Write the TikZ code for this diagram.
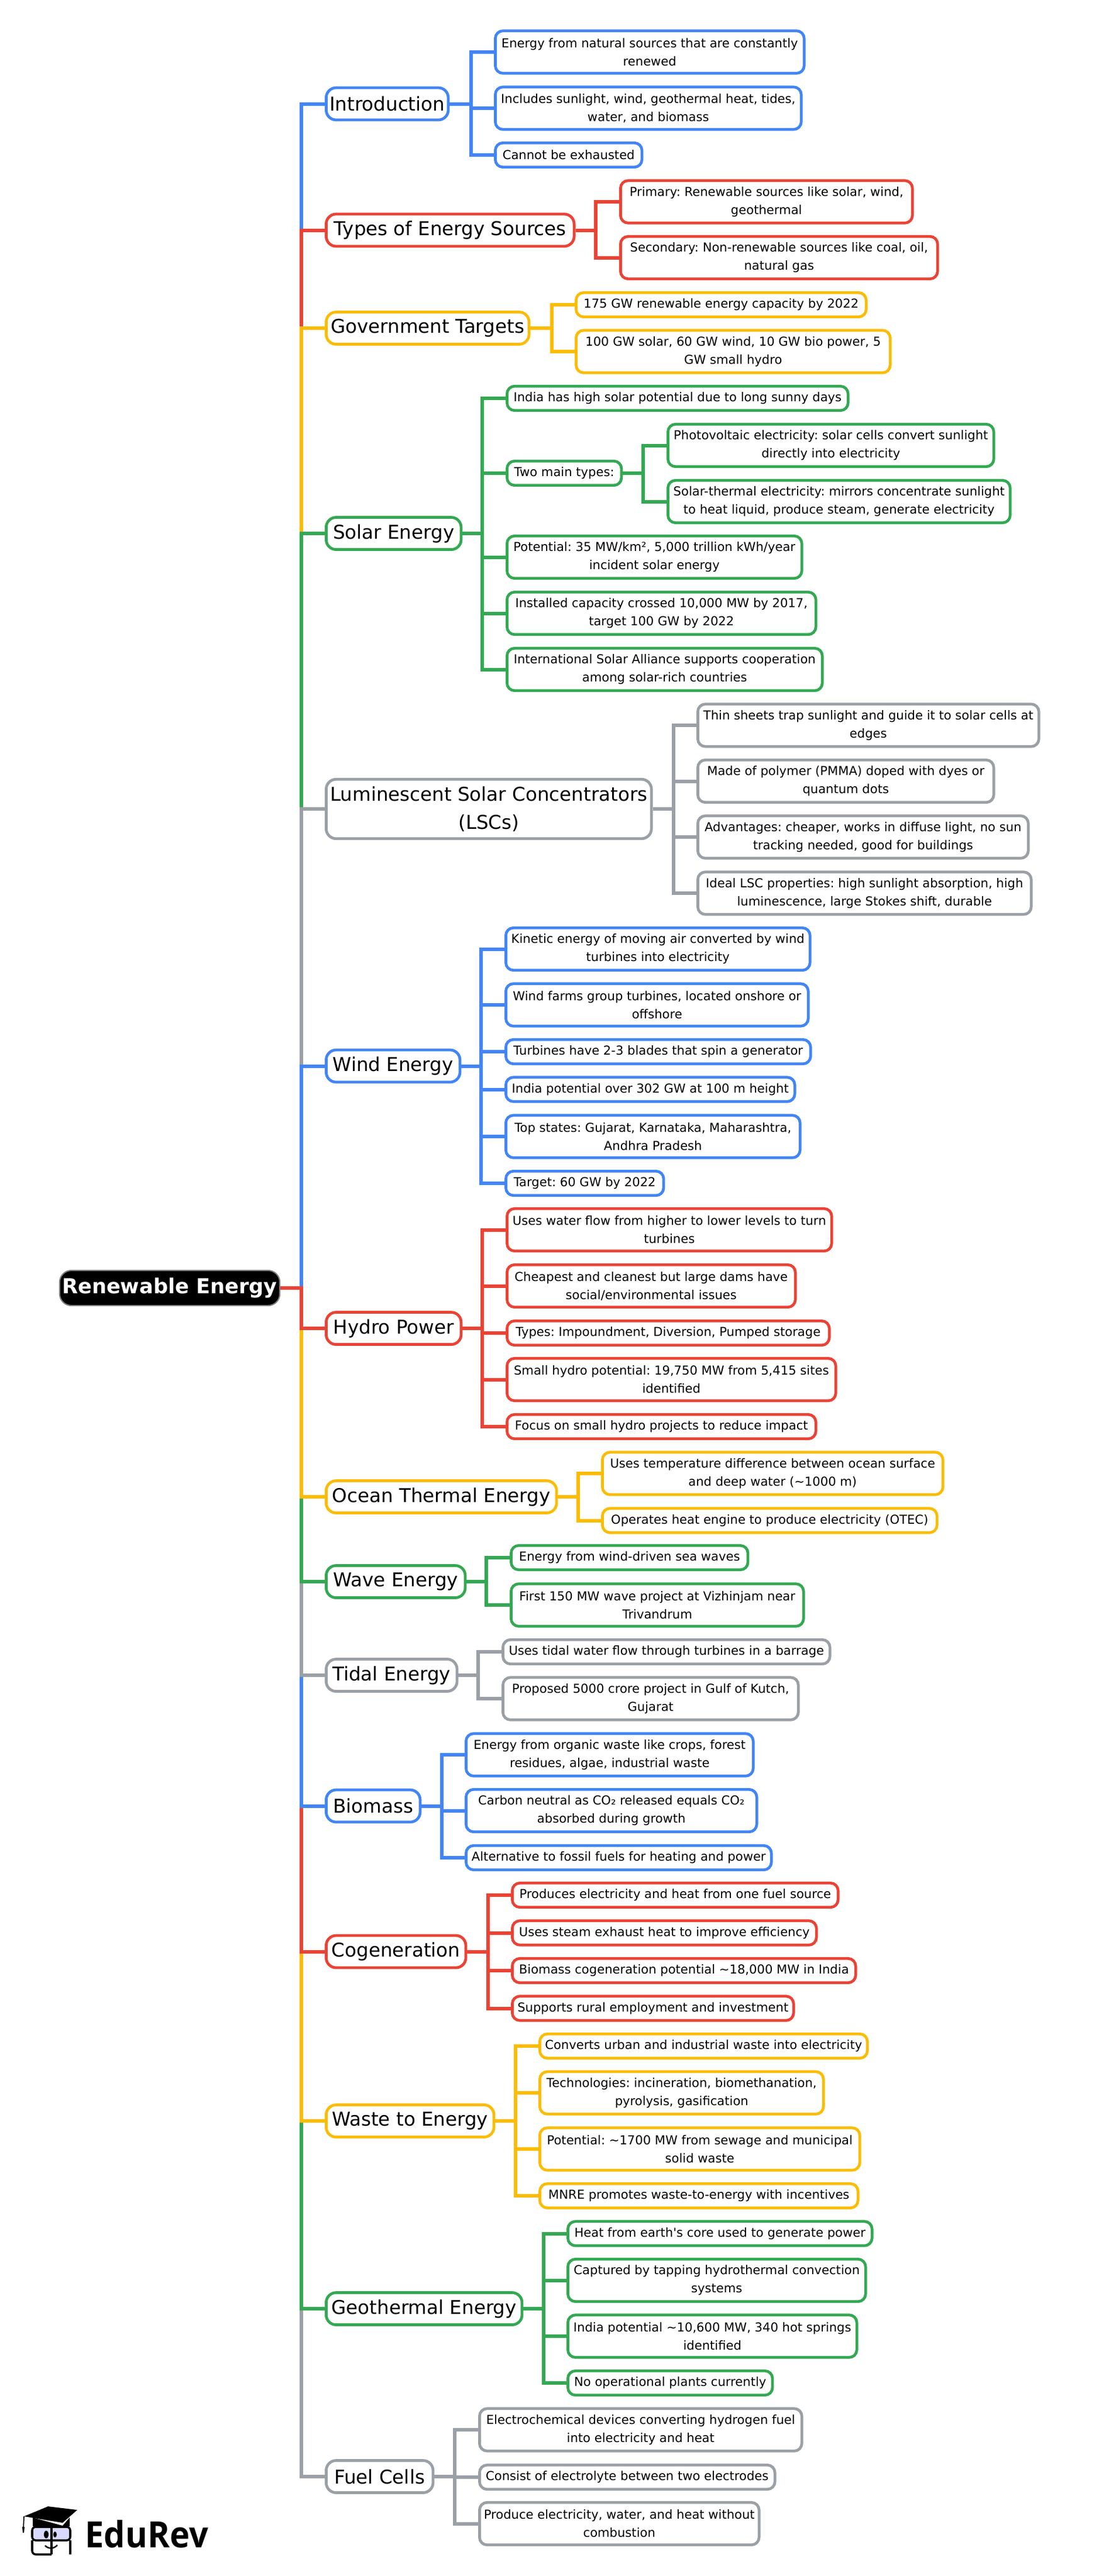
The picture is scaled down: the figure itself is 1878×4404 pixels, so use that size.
\documentclass[tikz,border=0pt]{standalone}
\usepackage{fontspec}
\setmainfont{DejaVu Sans}
\newfontfamily\logofont[FakeStretch=0.93]{Open Sans}
\frenchspacing

\definecolor{brBlue}{HTML}{4285F4}
\definecolor{brRed}{HTML}{EA4335}
\definecolor{brYellow}{HTML}{FBBC04}
\definecolor{brGreen}{HTML}{34A853}
\definecolor{brGray}{HTML}{9AA0A6}

\tikzset{
    rootbox/.style={draw=gray,line width=0.6pt,fill=black,text=white,rounded corners=0.2cm,inner sep=0pt,
        minimum width=3.76cm,minimum height=0.6cm,font=\fontsize{10}{14}\selectfont\bfseries},
    headbox/.style={draw=#1,fill=white,line width=1.35pt,rounded corners=0.17cm,inner sep=0pt,anchor=west,
        minimum height=0.55cm,align=center,font=\fontsize{9.25}{13.6}\selectfont},
    leafbox/.style={draw=#1,fill=white,line width=1.35pt,rounded corners=0.13cm,inner sep=0pt,anchor=west,
        minimum height=0.725cm,align=center,font=\fontsize{6}{8.8}\selectfont},
    short/.style={minimum height=0.415cm},
    link/.style={draw=#1,line width=1.7pt}
}

\begin{document}
\begin{tikzpicture}[x=0.01cm,y=-0.01cm]
    \useasboundingbox[fill=white] (0,0) rectangle (1878,4404);

    % centre and main branches
    \node[rootbox] (root) at (290,2202) {Renewable Energy};
    \coordinate (jRoot) at (515,2202);

    \node[headbox=brBlue,minimum width=2.085cm] (intro) at (555,177.5) {Introduction};
    \node[headbox=brRed,minimum width=4.235cm] (types) at (555,393.5) {Types of Energy Sources};
    \node[headbox=brYellow,minimum width=3.465cm] (gov) at (555,561) {Government Targets};
    \node[headbox=brGreen,minimum width=2.305cm] (solar) at (555,912) {Solar Energy};
    \node[headbox=brGray,minimum width=5.555cm,minimum height=1.015cm] (lsc) at (555,1383) {Luminescent Solar Concentrators\\(LSCs)};
    \node[headbox=brBlue,minimum width=2.285cm] (wind) at (555,1822.5) {Wind Energy};
    \node[headbox=brRed,minimum width=2.305cm] (hydro) at (555,2271) {Hydro Power};
    \node[headbox=brYellow,minimum width=3.935cm] (ocean) at (555,2559) {Ocean Thermal Energy};
    \node[headbox=brGreen,minimum width=2.375cm] (wave) at (555,2704) {Wave Energy};
    \node[headbox=brGray,minimum width=2.235cm] (tidal) at (555,2864) {Tidal Energy};
    \node[headbox=brBlue,minimum width=1.605cm] (bio) at (555,3087.5) {Biomass};
    \node[headbox=brRed,minimum width=2.385cm] (cogen) at (555,3336.5) {Cogeneration};
    \node[headbox=brYellow,minimum width=2.865cm] (waste) at (555,3626) {Waste to Energy};
    \node[headbox=brGreen,minimum width=3.345cm] (geo) at (555,3947) {Geothermal Energy};
    \node[headbox=brGray,minimum width=1.825cm] (fuel) at (555,4234) {Fuel Cells};

    % leaves
    \node[leafbox=brBlue,minimum width=5.275cm] (introA) at (844,89) {Energy from natural sources that are constantly\\renewed};
    \node[leafbox=brBlue,minimum width=5.225cm] (introB) at (844,185) {Includes sunlight, wind, geothermal heat, tides,\\water, and biomass};
    \node[leafbox=brBlue,short,minimum width=2.505cm] (introC) at (844,265) {Cannot be exhausted};

    \node[leafbox=brRed,minimum width=4.985cm] (typesA) at (1058,345) {Primary: Renewable sources like solar, wind,\\geothermal};
    \node[leafbox=brRed,minimum width=5.415cm] (typesB) at (1058,440.5) {Secondary: Non-renewable sources like coal, oil,\\natural gas};

    \node[leafbox=brYellow,short,minimum width=4.955cm] (govA) at (982,521) {175 GW renewable energy capacity by 2022};
    \node[leafbox=brYellow,minimum width=5.365cm] (govB) at (982,601) {100 GW solar, 60 GW wind, 10 GW bio power, 5\\GW small hydro};

    \node[leafbox=brGreen,short,minimum width=5.825cm] (solarA) at (864,681) {India has high solar potential due to long sunny days};
    \node[leafbox=brGreen,short,minimum width=1.955cm] (solarB) at (864,809) {Two main types:};
    \node[leafbox=brGreen,minimum width=5.565cm] (solarBa) at (1139,761.5) {Photovoltaic electricity: solar cells convert sunlight\\directly into electricity};
    \node[leafbox=brGreen,minimum width=5.845cm] (solarBb) at (1139,857.5) {Solar-thermal electricity: mirrors concentrate sunlight\\to heat liquid, produce steam, generate electricity};
    \node[leafbox=brGreen,minimum width=5.035cm] (solarC) at (864,952.5) {Potential: 35 MW/km², 5,000 trillion kWh/year\\incident solar energy};
    \node[leafbox=brGreen,minimum width=5.275cm] (solarD) at (864,1048.5) {Installed capacity crossed 10,000 MW by 2017,\\target 100 GW by 2022};
    \node[leafbox=brGreen,minimum width=5.385cm] (solarE) at (864,1144.5) {International Solar Alliance supports cooperation\\among solar-rich countries};

    \node[leafbox=brGray,minimum width=5.825cm] (lscA) at (1190,1240) {Thin sheets trap sunlight and guide it to solar cells at\\edges};
    \node[leafbox=brGray,minimum width=5.055cm] (lscB) at (1190,1335.5) {Made of polymer (PMMA) doped with dyes or\\quantum dots};
    \node[leafbox=brGray,minimum width=5.645cm] (lscC) at (1190,1431) {Advantages: cheaper, works in diffuse light, no sun\\tracking needed, good for buildings};
    \node[leafbox=brGray,minimum width=5.695cm] (lscD) at (1190,1527) {Ideal LSC properties: high sunlight absorption, high\\luminescence, large Stokes shift, durable};

    \node[leafbox=brBlue,minimum width=5.195cm] (windA) at (862,1622.5) {Kinetic energy of moving air converted by wind\\turbines into electricity};
    \node[leafbox=brBlue,minimum width=5.165cm] (windB) at (862,1718) {Wind farms group turbines, located onshore or\\offshore};
    \node[leafbox=brBlue,short,minimum width=5.205cm] (windC) at (862,1798) {Turbines have 2-3 blades that spin a generator};
    \node[leafbox=brBlue,short,minimum width=4.935cm] (windD) at (862,1862.5) {India potential over 302 GW at 100 m height};
    \node[leafbox=brBlue,minimum width=5.025cm] (windE) at (862,1943) {Top states: Gujarat, Karnataka, Maharashtra,\\Andhra Pradesh};
    \node[leafbox=brBlue,short,minimum width=2.695cm] (windF) at (862,2023) {Target: 60 GW by 2022};

    \node[leafbox=brRed,minimum width=5.545cm] (hydroA) at (864,2102.5) {Uses water flow from higher to lower levels to turn\\turbines};
    \node[leafbox=brRed,minimum width=4.925cm] (hydroB) at (864,2198.5) {Cheapest and cleanest but large dams have\\social/environmental issues};
    \node[leafbox=brRed,short,minimum width=5.505cm] (hydroC) at (864,2279) {Types: Impoundment, Diversion, Pumped storage};
    \node[leafbox=brRed,minimum width=5.615cm] (hydroD) at (864,2358.5) {Small hydro potential: 19,750 MW from 5,415 sites\\identified};
    \node[leafbox=brRed,short,minimum width=5.275cm] (hydroE) at (864,2439) {Focus on small hydro projects to reduce impact};

    \node[leafbox=brYellow,minimum width=5.815cm] (oceanA) at (1027,2519) {Uses temperature difference between ocean surface\\and deep water (\textasciitilde1000 m)};
    \node[leafbox=brYellow,short,minimum width=5.715cm] (oceanB) at (1027,2599.5) {Operates heat engine to produce electricity (OTEC)};

    \node[leafbox=brGreen,short,minimum width=4.045cm] (waveA) at (871,2663) {Energy from wind-driven sea waves};
    \node[leafbox=brGreen,minimum width=4.995cm] (waveB) at (871,2744) {First 150 MW wave project at Vizhinjam near\\Trivandrum};

    \node[leafbox=brGray,short,minimum width=5.585cm] (tidalA) at (857,2824) {Uses tidal water flow through turbines in a barrage};
    \node[leafbox=brGray,minimum width=5.045cm] (tidalB) at (857,2904) {Proposed 5000 crore project in Gulf of Kutch,\\Gujarat};

    \node[leafbox=brBlue,minimum width=4.905cm] (bioA) at (794,3000) {Energy from organic waste like crops, forest\\residues, algae, industrial waste};
    \node[leafbox=brBlue,minimum width=4.965cm] (bioB) at (794,3095.5) {Carbon neutral as CO₂ released equals CO₂\\absorbed during growth};
    \node[leafbox=brBlue,short,minimum width=5.215cm] (bioC) at (794,3176) {Alternative to fossil fuels for heating and power};

    \node[leafbox=brRed,short,minimum width=5.565cm] (cogenA) at (873,3240) {Produces electricity and heat from one fuel source};
    \node[leafbox=brRed,short,minimum width=5.195cm] (cogenB) at (873,3304.5) {Uses steam exhaust heat to improve efficiency};
    \node[leafbox=brRed,short,minimum width=5.865cm] (cogenC) at (873,3369) {Biomass cogeneration potential \textasciitilde18,000 MW in India};
    \node[leafbox=brRed,short,minimum width=4.805cm] (cogenD) at (873,3433.5) {Supports rural employment and investment};

    \node[leafbox=brYellow,short,minimum width=5.595cm] (wasteA) at (920,3498) {Converts urban and industrial waste into electricity};
    \node[leafbox=brYellow,minimum width=4.845cm] (wasteB) at (920,3578) {Technologies: incineration, biomethanation,\\pyrolysis, gasification};
    \node[leafbox=brYellow,minimum width=5.465cm] (wasteC) at (920,3674) {Potential: \textasciitilde1700 MW from sewage and municipal\\solid waste};
    \node[leafbox=brYellow,short,minimum width=5.435cm] (wasteD) at (920,3754) {MNRE promotes waste-to-energy with incentives};

    \node[leafbox=brGreen,short,minimum width=5.195cm] (geoA) at (968,3818.5) {Heat from earth\textquotesingle s core used to generate power};
    \node[leafbox=brGreen,minimum width=5.085cm] (geoB) at (968,3898.5) {Captured by tapping hydrothermal convection\\systems};
    \node[leafbox=brGreen,minimum width=4.935cm] (geoC) at (968,3994) {India potential \textasciitilde10,600 MW, 340 hot springs\\identified};
    \node[leafbox=brGreen,short,minimum width=3.495cm] (geoD) at (968,4074) {No operational plants currently};

    \node[leafbox=brGray,minimum width=5.505cm] (fuelA) at (817,4154) {Electrochemical devices converting hydrogen fuel\\into electricity and heat};
    \node[leafbox=brGray,short,minimum width=5.045cm] (fuelB) at (817,4235) {Consist of electrolyte between two electrodes};
    \node[leafbox=brGray,minimum width=4.775cm] (fuelC) at (817,4314.5) {Produce electricity, water, and heat without\\combustion};

    % branch junctions
    \coordinate (jIntro) at (805,177.5);
    \coordinate (jTypes) at (1018,393.5);
    \coordinate (jGov) at (943,561);
    \coordinate (jSolar) at (824,912);
    \coordinate (jTwo) at (1099,809);
    \coordinate (jLsc) at (1151,1383);
    \coordinate (jWind) at (822,1822.5);
    \coordinate (jHydro) at (824,2271);
    \coordinate (jOcean) at (988,2559);
    \coordinate (jWave) at (831,2704);
    \coordinate (jTidal) at (817,2864);
    \coordinate (jBio) at (755,3087.5);
    \coordinate (jCogen) at (834,3336.5);
    \coordinate (jWaste) at (881,3626);
    \coordinate (jGeo) at (929,3947);
    \coordinate (jFuel) at (777,4234);

    % spine, upper part from the top, lower part from the bottom
    \draw[link=brBlue] (jRoot) |- (intro.west);
    \draw[link=brRed] (jRoot) |- (types.west);
    \draw[link=brYellow] (jRoot) |- (gov.west);
    \draw[link=brGreen] (jRoot) |- (solar.west);
    \draw[link=brGray] (jRoot) |- (lsc.west);
    \draw[link=brBlue] (jRoot) |- (wind.west);
    \draw[link=brGray] (jRoot) |- (fuel.west);
    \draw[link=brGreen] (jRoot) |- (geo.west);
    \draw[link=brYellow] (jRoot) |- (waste.west);
    \draw[link=brRed] (jRoot) |- (cogen.west);
    \draw[link=brBlue] (jRoot) |- (bio.west);
    \draw[link=brGray] (jRoot) |- (tidal.west);
    \draw[link=brGreen] (jRoot) |- (wave.west);
    \draw[link=brYellow] (jRoot) |- (ocean.west);
    \draw[link=brRed] (root.east) -- (jRoot) |- (hydro.west);

    % leaf connectors
    \draw[link=brBlue] (intro.east) -- (jIntro) (jIntro) |- (introA.west) (jIntro) |- (introB.west) (jIntro) |- (introC.west);
    \draw[link=brRed] (types.east) -- (jTypes) (jTypes) |- (typesA.west) (jTypes) |- (typesB.west);
    \draw[link=brYellow] (gov.east) -- (jGov) (jGov) |- (govA.west) (jGov) |- (govB.west);
    \draw[link=brGreen] (solar.east) -- (jSolar) (jSolar) |- (solarA.west) (jSolar) |- (solarB.west) (jSolar) |- (solarC.west) (jSolar) |- (solarD.west) (jSolar) |- (solarE.west);
    \draw[link=brGreen] (solarB.east) -- (jTwo) (jTwo) |- (solarBa.west) (jTwo) |- (solarBb.west);
    \draw[link=brGray] (lsc.east) -- (jLsc) (jLsc) |- (lscA.west) (jLsc) |- (lscB.west) (jLsc) |- (lscC.west) (jLsc) |- (lscD.west);
    \draw[link=brBlue] (wind.east) -- (jWind) (jWind) |- (windA.west) (jWind) |- (windB.west) (jWind) |- (windC.west) (jWind) |- (windD.west) (jWind) |- (windE.west) (jWind) |- (windF.west);
    \draw[link=brRed] (hydro.east) -- (jHydro) (jHydro) |- (hydroA.west) (jHydro) |- (hydroB.west) (jHydro) |- (hydroC.west) (jHydro) |- (hydroD.west) (jHydro) |- (hydroE.west);
    \draw[link=brYellow] (ocean.east) -- (jOcean) (jOcean) |- (oceanA.west) (jOcean) |- (oceanB.west);
    \draw[link=brGreen] (wave.east) -- (jWave) (jWave) |- (waveA.west) (jWave) |- (waveB.west);
    \draw[link=brGray] (tidal.east) -- (jTidal) (jTidal) |- (tidalA.west) (jTidal) |- (tidalB.west);
    \draw[link=brBlue] (bio.east) -- (jBio) (jBio) |- (bioA.west) (jBio) |- (bioB.west) (jBio) |- (bioC.west);
    \draw[link=brRed] (cogen.east) -- (jCogen) (jCogen) |- (cogenA.west) (jCogen) |- (cogenB.west) (jCogen) |- (cogenC.west) (jCogen) |- (cogenD.west);
    \draw[link=brYellow] (waste.east) -- (jWaste) (jWaste) |- (wasteA.west) (jWaste) |- (wasteB.west) (jWaste) |- (wasteC.west) (jWaste) |- (wasteD.west);
    \draw[link=brGreen] (geo.east) -- (jGeo) (jGeo) |- (geoA.west) (jGeo) |- (geoB.west) (jGeo) |- (geoC.west) (jGeo) |- (geoD.west);
    \draw[link=brGray] (fuel.east) -- (jFuel) (jFuel) |- (fuelA.west) (jFuel) |- (fuelB.west) (jFuel) |- (fuelC.west);

    % logo
    \fill (41,4302) -- (82,4285) -- (132,4291) -- (107,4313) -- cycle;
    \fill (56,4304) -- (107,4318) -- (119,4304) -- (119,4319) -- (56,4319) -- cycle;
    \draw[line width=0.5pt] (41,4302) -- (40,4322);
    \fill (38,4320) -- (42,4320) -- (41,4330) -- (39,4330) -- cycle;
    \draw[line width=1pt,fill=blue!15,rounded corners=0.06cm] (55,4320) rectangle (120,4343);
    \draw[line width=1pt,rounded corners=0.06cm] (88,4367) -- (55,4367) -- (55,4343) (120,4343) -- (120,4367);
    \draw[line width=1pt] (88,4318) -- (88,4367);
    \fill (79,4333) ellipse (4 and 6.5);
    \fill (94,4333) ellipse (3 and 5);
    \draw[line width=0.7pt] (77,4352) .. controls (83,4358) and (92,4358) .. (98,4351);
    \node[anchor=base west,inner sep=0pt,font=\logofont\fontsize{17.6}{20}\selectfont\bfseries] (logo) at (145,4355) {EduRev};
\end{tikzpicture}
\end{document}
